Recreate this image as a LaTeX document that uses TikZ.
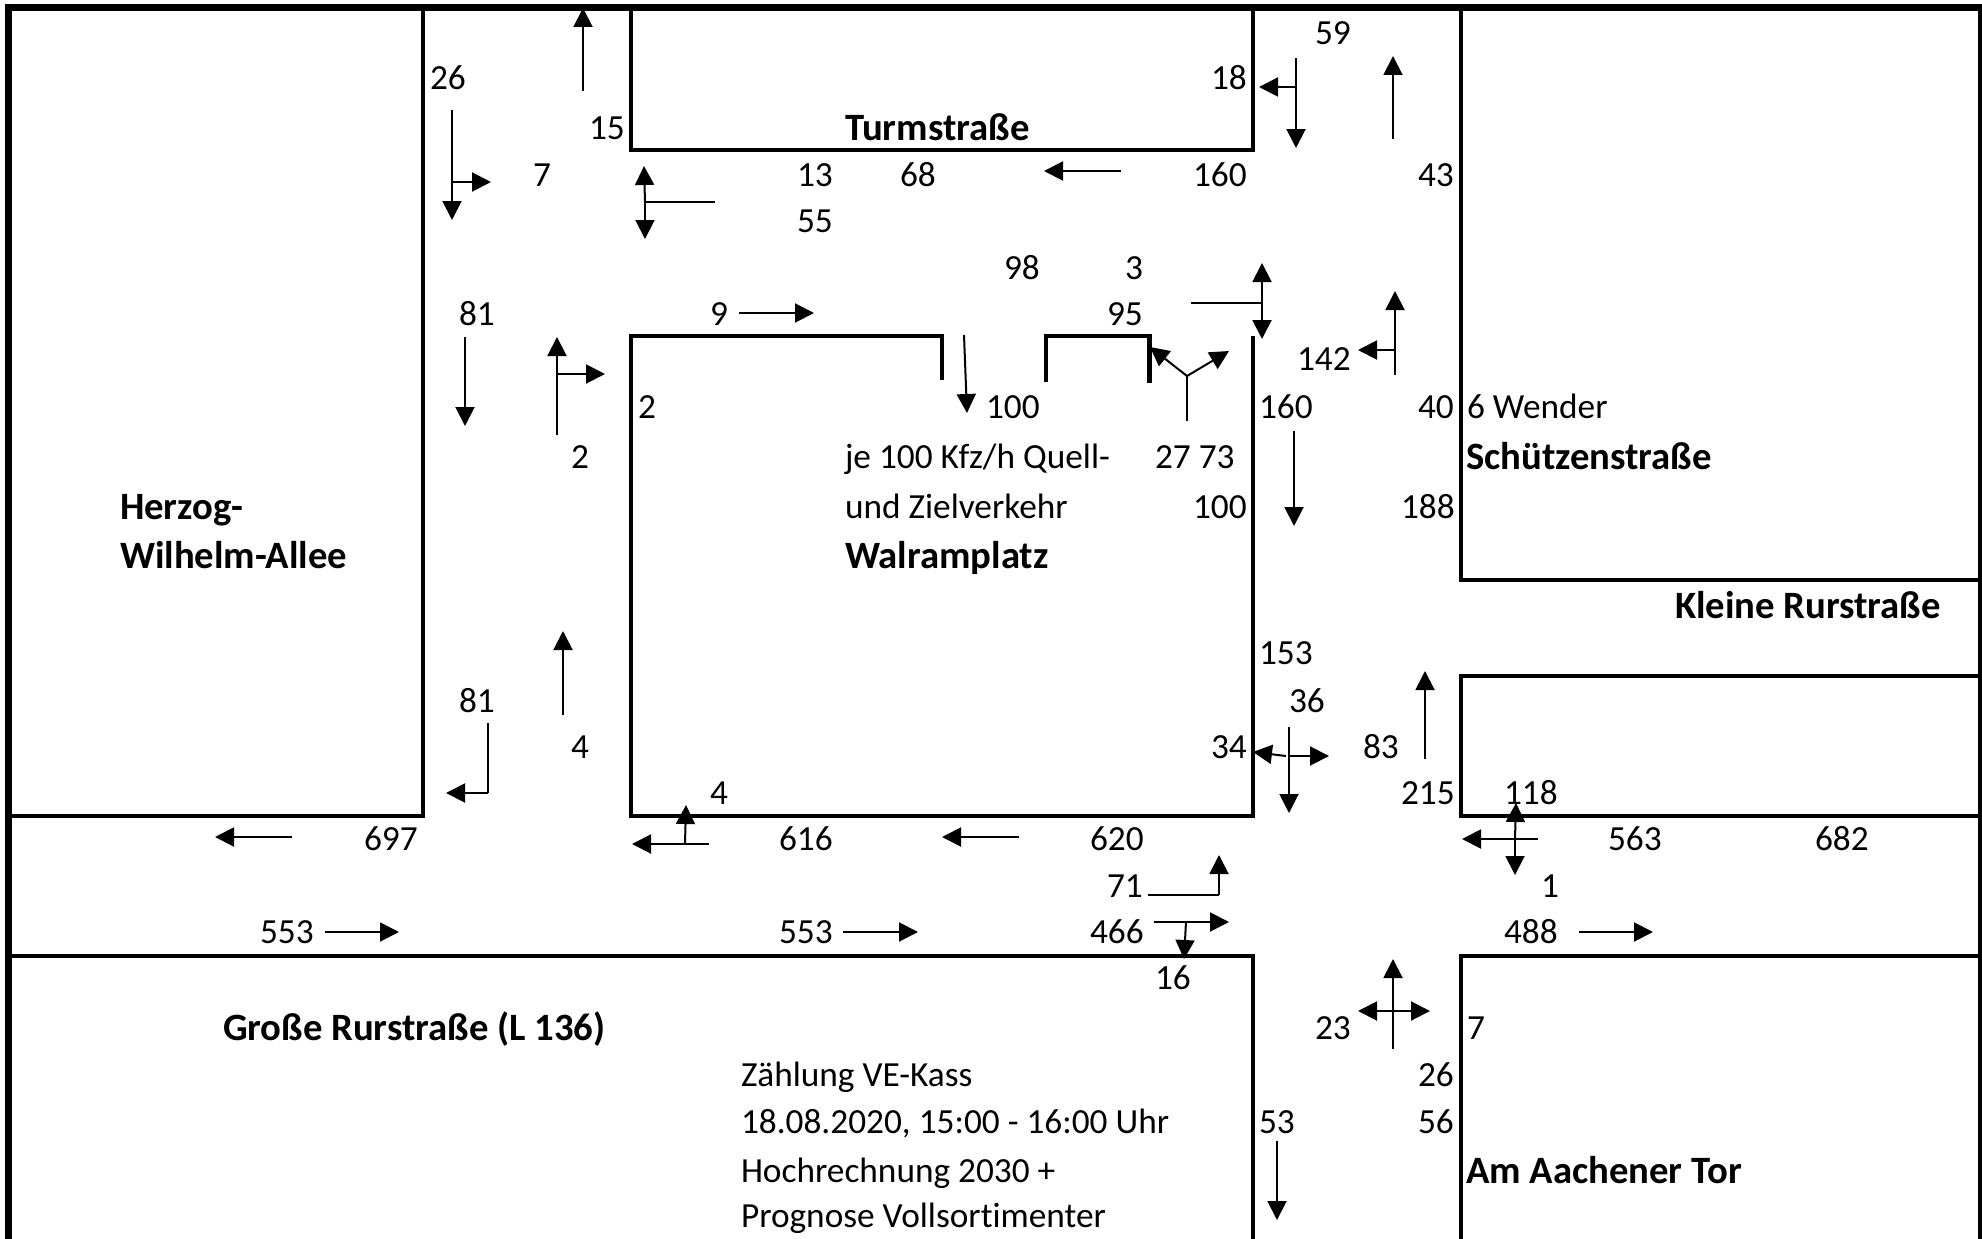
\documentclass[tikz,border=0pt]{standalone}
\usepackage{fontspec}
\setmainfont[Ligatures=NoCommon]{Carlito}
\usetikzlibrary{arrows.meta}
\newcommand{\putlab}[4]{\node[lbl] (#1) at (#2,#3) {#4};}
\newcommand{\putbold}[4]{\node[lbl,yshift=-1pt,font=\fontsize{38.7}{42}\selectfont\bfseries] (#1) at (#2,#3) {#4};}
\tikzset{
  lbl/.style={anchor=base west,inner sep=0pt,outer sep=0pt,yshift=-1.2pt,font=\fontsize{35.3}{40}\selectfont},
  wall/.style={line width=4.3pt,line cap=butt,line join=miter,draw=black},
  frameline/.style={line width=7pt,draw=black},
  arw/.style={line width=2pt,draw=black,-{Triangle[length=19pt,width=19pt]}},
  stem/.style={line width=2pt,draw=black},
  heavystem/.style={line width=2.8pt,draw=black}
}
\begin{document}
\begin{tikzpicture}[x=1pt,y=-1pt]
\useasboundingbox (0,0) rectangle (1982,1239);
% frame
\draw[frameline] (8.5,1239) -- (8.5,7.5) -- (1982,7.5);
\draw[wall] (1980,7.5) -- (1980,1239);
% walls
\draw[wall] (423,8) -- (423,816) -- (8,816);
\draw[wall] (631,8) -- (631,150) -- (1253,150) -- (1253,8);
\draw[wall] (1461,8) -- (1461,580) -- (1980,580);
\draw[wall] (1980,676) -- (1461,676) -- (1461,816) -- (1980,816);
\draw[wall] (8,956) -- (1253,956) -- (1253,1239);
\draw[wall] (1980,956) -- (1461,956) -- (1461,1239);
\draw[wall] (942,380) -- (942,336) -- (631,336) -- (631,816) -- (1253,816) -- (1253,336);
\draw[wall] (1046,382) -- (1046,336) -- (1149.5,336) -- (1149.5,383);
% arrows
\draw[arw] (583,91) -- (583,8);
\draw[arw] (452,110) -- (452,220);
\draw[arw] (452,182) -- (491,182);
\draw[arw] (645,202) -- (644,166);
\draw[arw] (645,202) -- (645,239);
\draw[heavystem] (645,202) -- (715,202);
\draw[arw] (739,313) -- (814,313);
\draw[arw] (1296,58) -- (1296,148);
\draw[arw] (1296,87) -- (1259,87);
\draw[arw] (1393,139) -- (1393,56);
\draw[arw] (1121,171) -- (1044,171);
\draw[stem] (1191,303) -- (1262,303);
\draw[arw] (1262,303) -- (1262,263);
\draw[arw] (1262,303) -- (1262,339);
\draw[stem] (1187,421) -- (1187,376);
\draw[arw] (1187,376) -- (1150,347);
\draw[arw] (1187,376) -- (1229,351);
\draw[arw] (1395,375) -- (1395,291);
\draw[arw] (1395,350) -- (1358,350);
\draw[arw] (1294,431) -- (1294,526);
\draw[arw] (964,335) -- (967,413);
\draw[arw] (465,337) -- (465,426);
\draw[arw] (557,435) -- (557,337);
\draw[arw] (557,374) -- (605,374);
\draw[arw] (563,715) -- (563,631);
\draw[stem] (488,723) -- (488,793);
\draw[arw] (488,793) -- (446,793);
\draw[arw] (292,837) -- (215,837);
\draw[arw] (709,844) -- (632,844);
\draw[arw] (685,844) -- (686,805);
\draw[arw] (1019,837) -- (942,837);
\draw[arw] (325,932) -- (399,932);
\draw[arw] (843,932) -- (918,932);
\draw[arw] (1579,932) -- (1653,932);
\draw[arw] (1277,1141) -- (1277,1220);
\draw[arw] (1289,727) -- (1289,813);
\draw[arw] (1289,756) -- (1329,756);
\draw[arw] (1286,756) -- (1253,752);
\draw[arw] (1425,759) -- (1425,671);
\draw[arw] (1515,839) -- (1516,803);
\draw[arw] (1515,839) -- (1515,875);
\draw[arw] (1538,839) -- (1462,839);
\draw[stem] (1148,895) -- (1219,895);
\draw[arw] (1219,895) -- (1219,855);
\draw[arw] (1154,922) -- (1229,922);
\draw[arw] (1186,922) -- (1184,959);
\draw[arw] (1393,1049) -- (1393,959);
\draw[arw] (1393,1011) -- (1430,1011);
\draw[arw] (1393,1011) -- (1358,1011);
% labels
\putlab{a}{1315}{43}{59}
\putlab{b}{430}{88}{26}
\putlab{c}{1211}{88}{18}
\putbold{d}{845}{138}{Turmstraße}
\putlab{e}{589}{138}{15}
\putlab{f}{533}{185}{7}
\putlab{g}{797}{185}{13}
\putlab{h}{900}{185}{68}
\putlab{i}{1193}{185}{160}
\putlab{j}{1418}{185}{43}
\putlab{k}{797}{231}{55}
\putlab{l}{1004}{278}{98}
\putlab{m}{1125}{278}{3}
\putlab{n}{459}{324}{81}
\putlab{o}{710}{324}{9}
\putlab{p}{1107}{324}{95}
\putlab{q}{1297}{369}{142}
\putlab{r}{638}{417}{2}
\putlab{s}{986}{417}{100}
\putlab{t}{1259}{417}{160}
\putlab{u}{1418}{417}{40}
\putlab{v}{1467}{417}{6 Wender}
\putlab{w}{571}{467}{2}
\putlab{x}{845}{467}{je 100 Kfz/h Quell-}
\putlab{y}{1155}{467}{27 73}
\putbold{z}{1466}{467}{Schützenstraße}
\putbold{aa}{120}{517}{Herzog-}
\putlab{ab}{845}{517}{und Zielverkehr}
\putlab{ac}{1193}{517}{100}
\putlab{ad}{1401}{517}{188}
\putbold{ae}{120}{566}{Wilhelm-Allee}
\putbold{af}{845}{566}{Walramplatz}
\putbold{ag}{1675}{616}{Kleine Rurstraße}
\putlab{ah}{1259}{663}{153}
\putlab{ai}{459}{711}{81}
\putlab{aj}{1289}{711}{36}
\putlab{ak}{571}{757}{4}
\putlab{al}{1211}{757}{34}
\putlab{am}{1363}{757}{83}
\putlab{an}{710}{803}{4}
\putlab{ao}{1401}{803}{215}
\putlab{ap}{1504}{803}{118}
\putlab{aq}{364}{849}{697}
\putlab{ar}{779}{849}{616}
\putlab{as}{1090}{849}{620}
\putlab{at}{1608}{849}{563}
\putlab{au}{1815}{849}{682}
\putlab{av}{1107}{896}{71}
\putlab{aw}{1541}{896}{1}
\putlab{ax}{260}{942}{553}
\putlab{ay}{779}{942}{553}
\putlab{az}{1090}{942}{466}
\putlab{ba}{1504}{942}{488}
\putlab{bb}{1155}{988}{16}
\putbold{bc}{223}{1038}{Große Rurstraße (L 136)}
\putlab{bd}{1315}{1038}{23}
\putlab{be}{1467}{1038}{7}
\putlab{bf}{741}{1085}{Zählung VE-Kass}
\putlab{bg}{1418}{1085}{26}
\putlab{bh}{741}{1132}{18.08.2020, 15:00 - 16:00 Uhr}
\putlab{bi}{1259}{1132}{53}
\putlab{bj}{1418}{1132}{56}
\putlab{bk}{741}{1181}{Hochrechnung 2030 +}
\putbold{bl}{1466}{1181}{Am Aachener Tor}
\putlab{bm}{741}{1226}{Prognose Vollsortimenter}
\end{tikzpicture}
\end{document}
